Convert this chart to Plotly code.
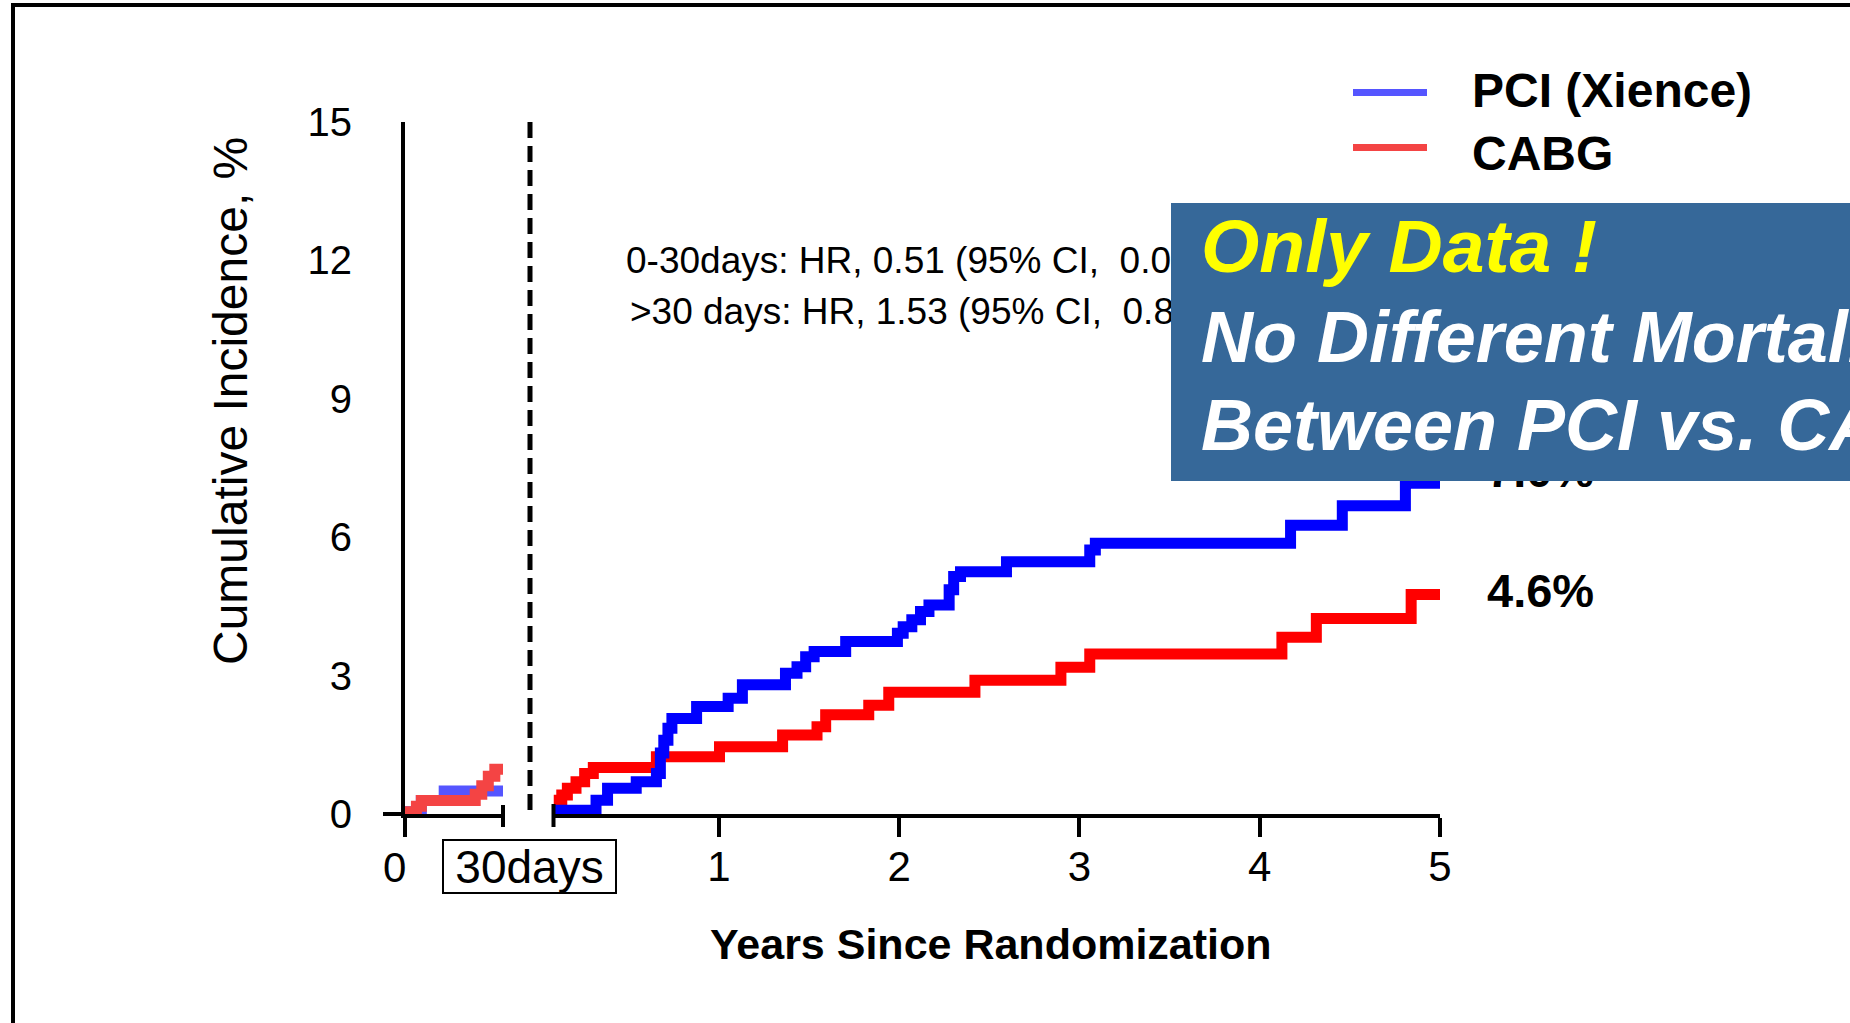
import plotly.graph_objects as go

# ---------------- data ----------------
series_names = ["PCI (Xience)", "CABG"]

# 0-30 days segment (x in days)
pci_days = [0, 5, 12, 30]
pci_days_val = [0.05, 0.29, 0.50, 0.50]
cabg_days = [0, 3.5, 5, 21.5, 23.5, 25.5, 27.5, 30]
cabg_days_val = [0.05, 0.17, 0.29, 0.43, 0.61, 0.82, 0.97, 0.97]

# >30 days segment (x in years since randomization)
pci_years = [0.0821, 0.318, 0.382, 0.541, 0.653, 0.675, 0.694, 0.717, 0.739, 0.876,
             1.051, 1.130, 1.369, 1.433, 1.481, 1.528, 1.703, 1.990, 2.022, 2.070,
             2.118, 2.165, 2.277, 2.302, 2.340, 2.595, 3.057, 3.088, 4.171, 4.458,
             4.808, 5.0]
pci_vals = [0.08, 0.30, 0.56, 0.70, 0.88, 1.32, 1.60, 1.86, 2.07, 2.33,
            2.51, 2.80, 3.05, 3.19, 3.41, 3.52, 3.74, 3.92, 4.06, 4.21,
            4.39, 4.53, 4.86, 5.15, 5.25, 5.47, 5.72, 5.87, 6.26, 6.68,
            7.17, 7.17]
cabg_years = [0.0821, 0.128, 0.159, 0.207, 0.255, 0.303, 0.653, 1.003, 1.353, 1.544,
              1.592, 1.831, 1.942, 2.420, 2.897, 3.057, 4.123, 4.314, 4.840, 5.0]
cabg_vals = [0.30, 0.41, 0.56, 0.70, 0.88, 1.01, 1.24, 1.46, 1.71, 1.89,
             2.15, 2.36, 2.64, 2.90, 3.18, 3.47, 3.83, 4.24, 4.76, 4.76]

y_ticks = [0, 3, 6, 9, 12, 15]
year_ticks = [1, 2, 3, 4, 5]
end_labels = ["7.0%", "4.6%"]
hr_lines = ["0-30days: HR, 0.51 (95% CI,  0.0", ">30 days: HR, 1.53 (95% CI,  0.8"]
box_lines = ["Only Data !", "No Different Mortality", "Between PCI vs. CABG"]

# ---------------- layout geometry ----------------
W, H = 1850, 1023
L, R, T, B = 405, 1440, 122, 814
FONT = "Liberation Sans, Arial, sans-serif"


def px(x):
    return (x - L) / (R - L)


def py(y):
    return (B - y) / (B - T)


BLUE = "#0000ff"
RED = "#ff0000"
BLUE_L = "#5555ff"
RED_L = "#f44444"
LW = 11

fig = go.Figure()
fig.add_trace(go.Scatter(x=pci_days, y=pci_days_val, xaxis="x", yaxis="y", mode="lines",
                         line=dict(color=BLUE_L, width=LW, shape="hv"), showlegend=False))
fig.add_trace(go.Scatter(x=cabg_days, y=cabg_days_val, xaxis="x", yaxis="y", mode="lines",
                         line=dict(color=RED_L, width=LW, shape="hv"), showlegend=False))
fig.add_trace(go.Scatter(x=cabg_years, y=cabg_vals, xaxis="x2", yaxis="y", mode="lines",
                         line=dict(color=RED, width=LW, shape="hv"), showlegend=False))
fig.add_trace(go.Scatter(x=pci_years, y=pci_vals, xaxis="x2", yaxis="y", mode="lines",
                         line=dict(color=BLUE, width=LW, shape="hv"), showlegend=False))

d1 = px(503)
d2 = px(553.5)

fig.update_layout(
    width=W, height=H, autosize=False,
    margin=dict(l=L, r=W - R, t=T, b=H - B, pad=0),
    paper_bgcolor="white", plot_bgcolor="white",
    font=dict(family=FONT, color="black"),
    xaxis=dict(domain=[0, d1], range=[0, 30], anchor="y", showline=True, linewidth=4,
               linecolor="black", showgrid=False, zeroline=False,
               tickvals=[0], ticks="outside", ticklen=19, tickwidth=4, tickcolor="black",
               showticklabels=False),
    xaxis2=dict(domain=[d2, 1], range=[30 / 365.25, 5], anchor="y", showline=True,
                linewidth=4, linecolor="black", showgrid=False, zeroline=False,
                tickvals=year_ticks, ticks="outside", ticklen=19, tickwidth=4,
                tickcolor="black", ticklabelstandoff=-6,
                tickfont=dict(size=42, family=FONT)),
    yaxis=dict(range=[0, 15], anchor="x", showline=True, linewidth=4, linecolor="black",
               showgrid=False, zeroline=False, tickvals=y_ticks, ticks="",
               ticklabelstandoff=41, tickfont=dict(size=40, family=FONT)),
    showlegend=False,
)

shapes = []
# outer slide frame (top / left visible)
shapes.append(dict(type="rect", xref="paper", yref="paper", x0=px(13), x1=px(1870),
                   y0=py(5), y1=py(1040), line=dict(color="black", width=4),
                   fillcolor="rgba(0,0,0,0)", layer="below"))
# y = 0 tick extending left
shapes.append(dict(type="line", xref="paper", yref="paper", x0=px(383), x1=px(405),
                   y0=py(814), y1=py(814), line=dict(color="black", width=4)))
# end caps of the axis break
shapes.append(dict(type="line", xref="paper", yref="paper", x0=px(503), x1=px(503),
                   y0=py(805), y1=py(827), line=dict(color="black", width=4)))
shapes.append(dict(type="line", xref="paper", yref="paper", x0=px(553.5), x1=px(553.5),
                   y0=py(804), y1=py(827), line=dict(color="black", width=4)))
# dashed 30-day landmark line
shapes.append(dict(type="line", xref="paper", yref="paper", x0=px(530), x1=px(530),
                   y0=py(122), y1=py(812), line=dict(color="black", width=5, dash="16px,8px")))
# legend lines
shapes.append(dict(type="line", xref="paper", yref="paper", x0=px(1353), x1=px(1427),
                   y0=py(92.5), y1=py(92.5), line=dict(color=BLUE_L, width=7)))
shapes.append(dict(type="line", xref="paper", yref="paper", x0=px(1353), x1=px(1427),
                   y0=py(147.5), y1=py(147.5), line=dict(color=RED_L, width=7)))
fig.update_layout(shapes=shapes)

ann = []


def add_text(text, x, y, size, xanchor="center", yanchor="middle", color="black", **kw):
    ann.append(dict(text=text, x=px(x), y=py(y), xref="paper", yref="paper",
                    xanchor=xanchor, yanchor=yanchor, showarrow=False,
                    font=dict(size=size, color=color, family=FONT), **kw))


add_text("0", 394, 867, 42)
add_text("30days", 529.5, 866.5, 46, bordercolor="black", borderwidth=2, borderpad=0,
         width=171, height=51)
add_text("Cumulative Incidence, %", 231, 401, 48, textangle=-90)
add_text("<b>Years Since Randomization</b>", 991, 944, 43)
add_text(hr_lines[0], 624, 260, 37, xanchor="left")
add_text(hr_lines[1], 628, 311.5, 37, xanchor="left")
add_text("<b>%s</b>" % end_labels[0], 1485, 470, 47, xanchor="left")
add_text("<b>%s</b>" % end_labels[1], 1485, 590, 47, xanchor="left")
add_text("<b>%s</b>" % series_names[0], 1470, 90, 48, xanchor="left")
add_text("<b>%s</b>" % series_names[1], 1470, 153, 48, xanchor="left")
# blue call-out box
add_text(" ", 1171, 203, 10, xanchor="left", yanchor="top", bgcolor="#366899",
         borderpad=0, borderwidth=0, width=720, height=278)
add_text("<b><i>%s</i></b>" % box_lines[0], 1199, 246, 75, xanchor="left", color="#ffff00")
add_text("<b><i>%s</i></b>" % box_lines[1], 1199, 337, 72, xanchor="left", color="white")
add_text("<b><i>%s</i></b>" % box_lines[2], 1199, 425, 72, xanchor="left", color="white")
fig.update_layout(annotations=ann)

fig.write_html("out.html", config={"displayModeBar": False},
               post_script="document.body.style.margin='0';document.body.style.overflow='hidden';")
